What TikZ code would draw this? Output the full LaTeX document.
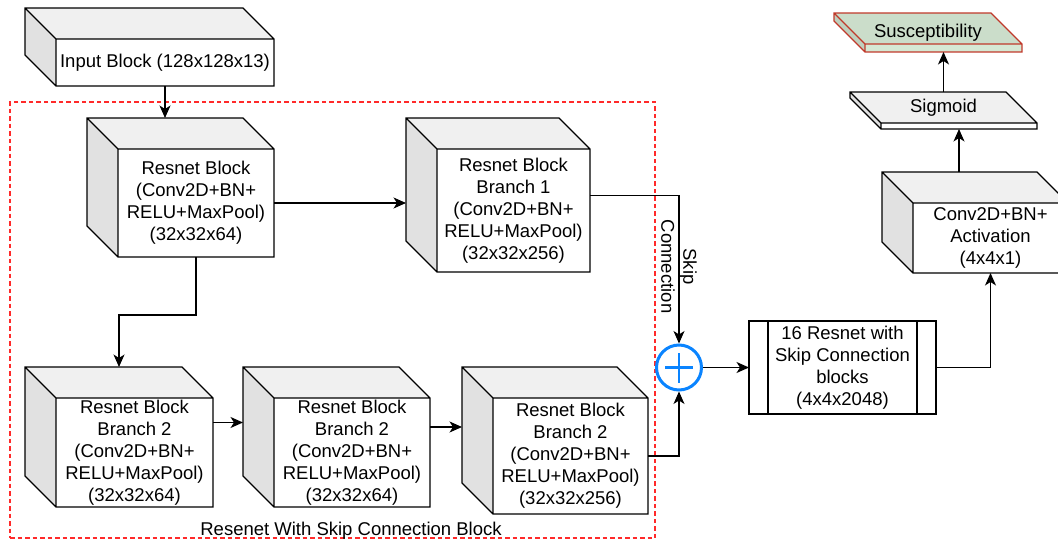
\documentclass[tikz,border=0pt]{standalone}
\usepackage{fontspec}
\setmainfont{Liberation Sans}
\usetikzlibrary{arrows.meta,calc}

\definecolor{topgray}{HTML}{F0F0F0}
\definecolor{sidegray}{HTML}{E1E1E1}
\definecolor{susfront}{HTML}{D5E8D4}
\definecolor{sustop}{HTML}{CBDDCA}
\definecolor{susside}{HTML}{BFD0BE}
\definecolor{susline}{HTML}{C0392B}
\definecolor{sumblue}{HTML}{0A84FF}
\definecolor{groupred}{HTML}{FF2A2A}

\newcommand\cubedepth{31}

% 3-D block: [scope options]{name}{x}{y}{width}{height}{front text}
\newcommand\blockcube[7][]{%
  \begin{scope}[#1]
    \fill[cubetop] (#3,#4) -- ({#3+#5-\cubedepth},#4) -- ({#3+#5},{#4+\cubedepth})
      -- ({#3+\cubedepth},{#4+\cubedepth}) -- cycle;
    \fill[cubeside] (#3,#4) -- ({#3+\cubedepth},{#4+\cubedepth}) -- ({#3+\cubedepth},{#4+#6})
      -- (#3,{#4+#6-\cubedepth}) -- cycle;
    \fill[cubefront] ({#3+\cubedepth},{#4+\cubedepth}) rectangle ({#3+#5},{#4+#6});
    \draw[cubeline] (#3,#4) -- ({#3+#5-\cubedepth},#4) -- ({#3+#5},{#4+\cubedepth})
      -- ({#3+#5},{#4+#6}) -- ({#3+\cubedepth},{#4+#6}) -- (#3,{#4+#6-\cubedepth}) -- cycle
      (#3,#4) -- ({#3+\cubedepth},{#4+\cubedepth}) -- ({#3+#5},{#4+\cubedepth})
      ({#3+\cubedepth},{#4+\cubedepth}) -- ({#3+\cubedepth},{#4+#6});
    \node[hiddenbox, minimum width={#5*1pt}, minimum height={#6*1pt}]
      (#2-box) at ({#3+#5/2},{#4+#6/2}) {};
    \node[blocktext, minimum width={(#5-\cubedepth)*1pt}, minimum height={(#6-\cubedepth)*1pt}]
      (#2) at ({#3+(#5+\cubedepth)/2},{#4+(#6+\cubedepth)/2}) {#7};
  \end{scope}}

\tikzset{
  cubetop/.style={fill=topgray},
  cubeside/.style={fill=sidegray},
  cubefront/.style={fill=white},
  cubeline/.style={draw=black, line width=1.2pt, line join=miter},
  greenslab/.style={
    cubetop/.style={fill=sustop},
    cubeside/.style={fill=susside},
    cubefront/.style={fill=susfront},
    cubeline/.style={draw=susline, line width=1.2pt}},
  hiddenbox/.style={shape=rectangle, inner sep=0pt, outer sep=0pt},
  labelfont/.style={font=\fontsize{18.5}{22}\selectfont},
  blocktext/.style={hiddenbox, align=center, labelfont},
  arr/.style={draw=black, line width=1.2pt, -{Stealth[length=12.5pt,width=11pt,inset=3.5pt]}},
  processbox/.style={draw=black, line width=1.2pt, fill=white, align=center, labelfont,
    minimum width=187pt, minimum height=93pt, inner sep=0pt, outer sep=0pt},
  sumnode/.style={circle, draw=sumblue, line width=3pt, minimum size=45pt, inner sep=0pt, fill=white},
  plusline/.style={draw=sumblue, line width=2.6pt},
  groupframe/.style={draw=groupred, line width=1.3pt, dash pattern=on 4.5pt off 3pt,
    shape=rectangle, inner sep=0pt}
}

\begin{document}
\begin{tikzpicture}[x=1pt, y=-1pt]
  \useasboundingbox (0,0) rectangle (1058,541);
  \clip (0,0) rectangle (1058,541);

  % dashed group frame
  \node[groupframe, minimum width=645pt, minimum height=436pt] (group) at (332.5,320) {};
  \node[labelfont, anchor=base, inner sep=0pt] (grouplabel) at (351,535)
    {Resenet With Skip Connection Block};

  % blocks
  \blockcube{in}{25}{8}{249}{78}{Input Block (128x128x13)}
  \blockcube{rb}{87}{118}{187}{139}{Resnet Block\\(Conv2D+BN+\\RELU+MaxPool)\\(32x32x64)}
  \blockcube{bra}{406}{118}{184}{154}{Resnet Block\\Branch 1\\(Conv2D+BN+\\RELU+MaxPool)\\(32x32x256)}
  \blockcube{brb}{25}{367}{188}{140}{Resnet Block\\Branch 2\\(Conv2D+BN+\\RELU+MaxPool)\\(32x32x64)}
  \blockcube{brc}{243}{367}{187}{140}{Resnet Block\\Branch 2\\(Conv2D+BN+\\RELU+MaxPool)\\(32x32x64)}
  \blockcube{brd}{462}{367}{186}{147}{Resnet Block\\Branch 2\\(Conv2D+BN+\\RELU+MaxPool)\\(32x32x256)}
  \blockcube{conv}{882}{172}{186}{101}{Conv2D+BN+\\Activation\\(4x4x1)}
  \blockcube{sig}{850}{92}{187}{37}{}
  \blockcube[greenslab]{sus}{834}{13}{188}{39}{}
  \node[labelfont, anchor=base, inner sep=0pt] (siglabel) at (943.5,112) {Sigmoid};
  \node[labelfont, anchor=base, inner sep=0pt] (suslabel) at (928,37) {Susceptibility};

  % summation and stacked resnet blocks
  \node[sumnode] (sum) at (679,367.5) {};
  \draw[plusline] ([xshift=-14pt]sum.center) -- ([xshift=14pt]sum.center)
                  ([yshift=-15pt]sum.center) -- ([yshift=15pt]sum.center);
  \node[processbox] (stack) at (842.5,367.5)
    {16 Resnet with\\Skip Connection\\blocks\\(4x4x2048)};
  \draw[line width=1.2pt] ([xshift=19pt]stack.north west) -- ([xshift=19pt]stack.south west)
                          ([xshift=-19pt]stack.north east) -- ([xshift=-19pt]stack.south east);

  % connectors
  \draw[arr] (in.south) -- (in.south |- rb-box.north);
  \draw[arr] (rb.east) -- (rb.east -| bra-box.west);
  \draw[arr] (rb.south) -- ++(0,58) -| (brb-box.north);
  \draw[arr] ([yshift=30pt]brb.east) -- ([yshift=30pt]brb.east -| brc-box.west);
  \draw[arr] ([yshift=25.5pt]brc.east) -- ([yshift=25.5pt]brc.east -| brd-box.west);
  \draw[arr] (brd.east) -| (sum.south);
  \draw[arr] ([yshift=15pt]bra.east) -| (sum.north)
    node[pos=0.74, rotate=-90, align=center, labelfont] (skiplabel) {Skip\\Connection};
  \draw[arr] (sum.east) -- (stack.west);
  \draw[arr] (stack.east) -| (conv.south);
  \draw[arr] (conv-box.north -| sig.south) -- (sig.south);
  \draw[arr] (sig-box.north) -- (sig-box.north |- sus-box.south);
\end{tikzpicture}
\end{document}
